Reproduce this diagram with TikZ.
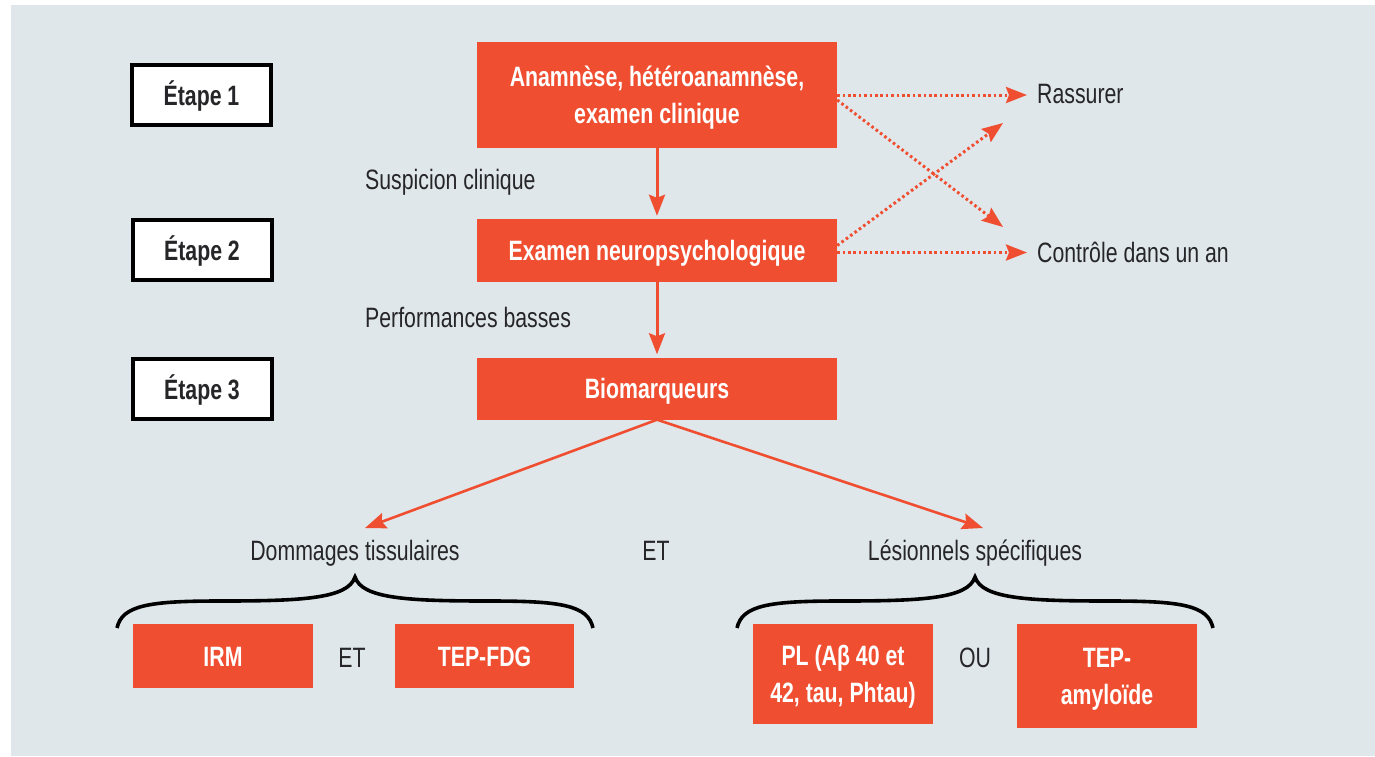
\documentclass[tikz,border=0pt]{standalone}
\usepackage{fontspec}
\setmainfont{Liberation Sans}[FakeStretch=0.76]
\usetikzlibrary{arrows.meta}
\definecolor{bg}{HTML}{E0E7EB}
\definecolor{orng}{HTML}{F04E30}
\definecolor{ink}{HTML}{262629}
\tikzset{
  bracestyle/.style={draw=black, line width=3.6pt},
  bracepic/.pic={\draw[bracestyle] (-238,51) .. controls (-233,28) and (-205,24) .. (-135,24) .. controls (-55,24) and (-7,22) .. (0,0) .. controls (7,22) and (55,24) .. (135,24) .. controls (205,24) and (233,28) .. (238,51);}
}
\begin{document}
\begin{tikzpicture}[x=1pt,y=-1pt,
  every node/.style={font=\fontsize{28}{37}\selectfont, text=ink},
  etapebox/.style={draw=black, line width=4pt, fill=white, minimum width=139pt, minimum height=60pt, inner sep=0pt, font=\fontsize{28}{37}\selectfont\bfseries, text height=20pt, text depth=0pt},
  orbox/.style={fill=orng, text=white, inner sep=0pt, font=\fontsize{28}{37}\selectfont\bfseries, align=center},
  oneline/.style={text height=20pt, text depth=0pt},
  twoline/.style={text height=57pt, text depth=0pt},
  lbl/.style={inner sep=0pt},
  solidarrow/.style={draw=orng, line width=3pt, -{Stealth[length=21pt,width=16pt,inset=3pt]}},
  dotarrow/.style={draw=orng, line width=3pt, dash pattern=on 2.6pt off 2.8pt, -{Stealth[length=21pt,width=16pt,inset=3pt]}}
]
\useasboundingbox (0,0) rectangle (1375,756);
\fill[white] (0,0) rectangle (1375,756);
\fill[bg] (11,5) rectangle (1375,756);

% step boxes
\node[etapebox] (e1) at (201.5,95) {Étape 1};
\node[etapebox] (e2) at (202,250) {Étape 2};
\node[etapebox] (e3) at (202,389) {Étape 3};

% main boxes
\node[orbox, twoline, minimum width=360pt, minimum height=106pt] (anam) at (657,95) {Anamnèse, hétéroanamnèse,\\examen clinique};
\node[orbox, oneline, minimum width=360pt, minimum height=63pt] (exam) at (657,250.5) {Examen neuropsychologique};
\node[orbox, oneline, minimum width=360pt, minimum height=62pt] (bio) at (657,388.5) {Biomarqueurs};

% labels
\node[lbl, anchor=base west] (susp) at (365,189) {Suspicion clinique};
\node[lbl, anchor=base west] (perf) at (365,327) {Performances basses};
\node[lbl, anchor=base west] (rass) at (1037,103) {Rassurer};
\node[lbl, anchor=base west] (ctrl) at (1037,262) {Contrôle dans un an};
\node[lbl, anchor=base] (dom) at (355,560) {Dommages tissulaires};
\node[lbl, anchor=base] (et1) at (656,560) {ET};
\node[lbl, anchor=base] (les) at (975,560) {Lésionnels spécifiques};

% bottom boxes
\node[orbox, oneline, minimum width=180pt, minimum height=64pt] (irm) at (223,656) {IRM};
\node[orbox, oneline, minimum width=179pt, minimum height=64pt] (fdg) at (484.5,656) {TEP-FDG};
\node[lbl, anchor=base] (et2) at (352,667) {ET};
\node[orbox, twoline, minimum width=180pt, minimum height=100pt] (pl) at (843,674) {PL (Aβ 40 et\\42, tau, Phtau)};
\node[lbl, anchor=base] (ou) at (975,667) {OU};
\node[orbox, twoline, minimum width=180pt, minimum height=104pt] (amy) at (1107,676) {TEP-\\amyloïde};

% braces
\pic at (355,577) {bracepic};
\pic at (975,577) {bracepic};

% solid arrows
\draw[solidarrow, shorten >=3pt] (anam.south) -- (exam.north);
\draw[solidarrow, shorten >=3pt] (exam.south) -- (bio.north);
\coordinate (tDom) at (365,528);
\coordinate (tLes) at (983,528);
\draw[solidarrow, line width=2.6pt] (bio.south) -- (tDom);
\draw[solidarrow, line width=2.6pt] (bio.south) -- (tLes);

% dotted arrows
\coordinate (tR) at (1003,123);
\coordinate (tC) at (1003,227);
\draw[dotarrow, shorten >=10pt] (anam.east) -- (anam.east -| rass.west);
\draw[dotarrow] ([yshift=-5pt]anam.east) -- (tC);
\draw[dotarrow] ([yshift=5pt]exam.east) -- (tR);
\draw[dotarrow, shorten >=10pt] ([yshift=-2pt]exam.east) -- ([yshift=-2pt]exam.east -| ctrl.west);
\end{tikzpicture}
\end{document}
